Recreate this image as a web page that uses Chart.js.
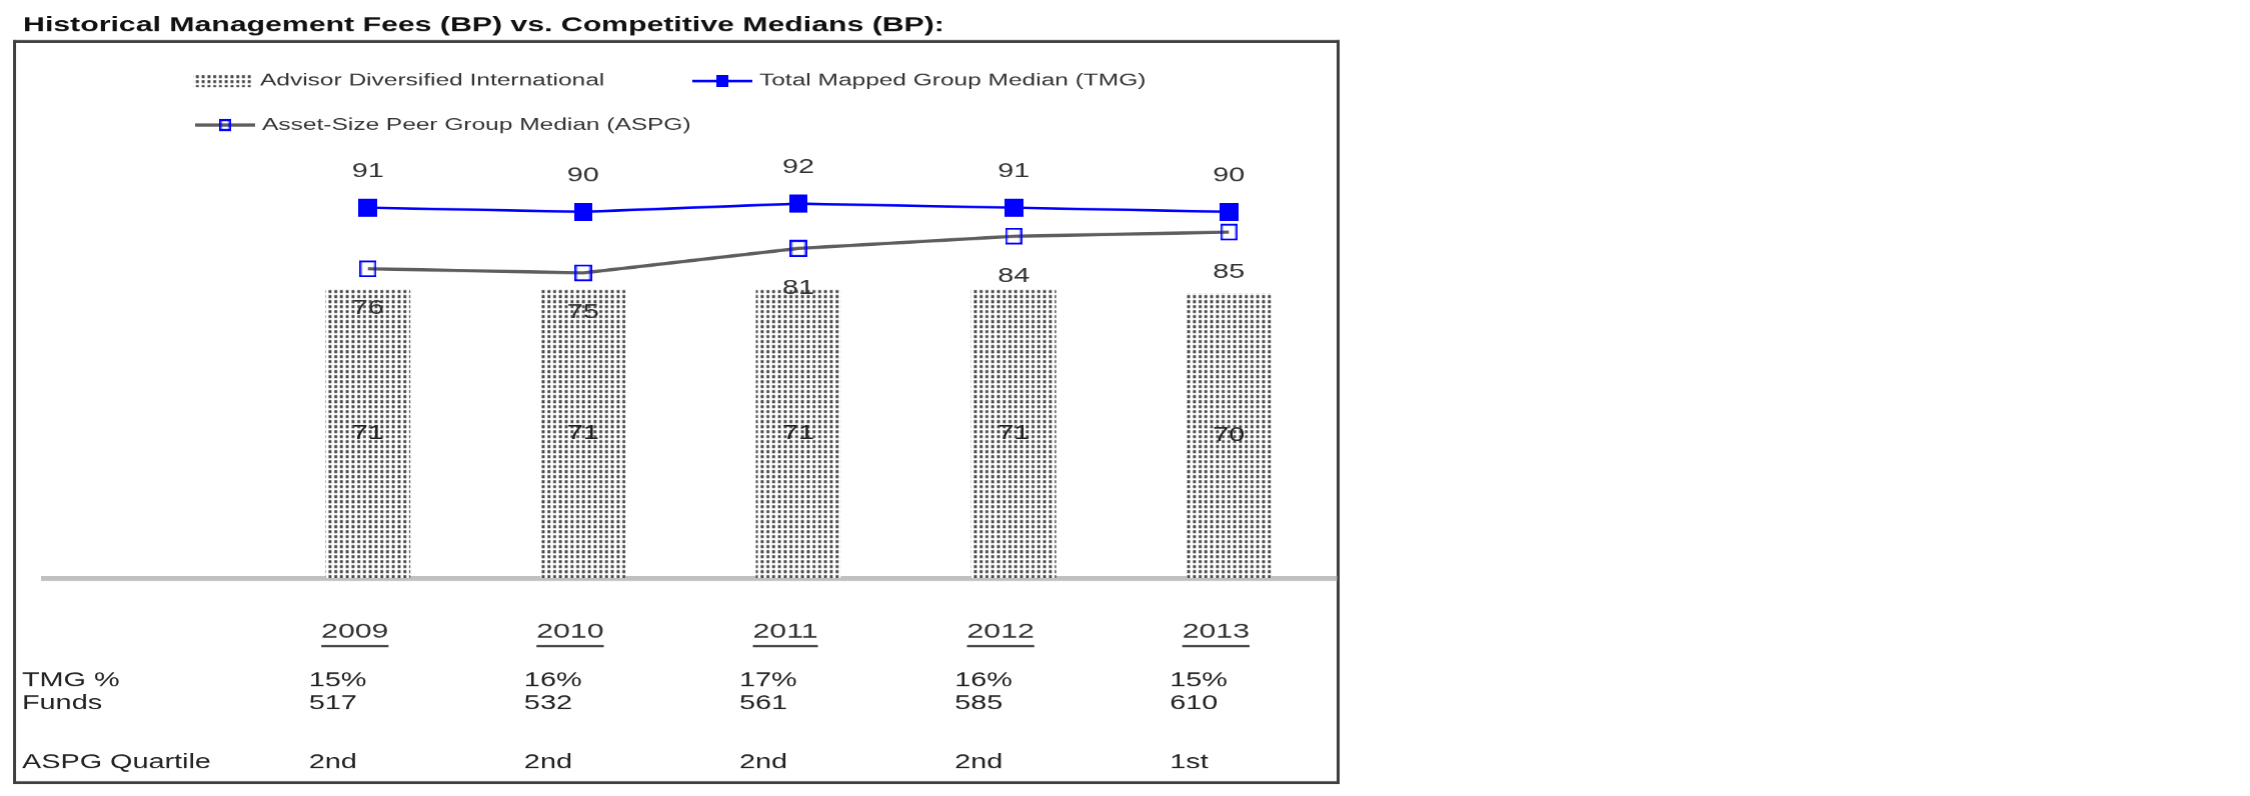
<!DOCTYPE html>
<html>
<head>
<meta charset="utf-8">
<title>Historical Management Fees vs. Competitive Medians</title>
<script src="https://cdn.jsdelivr.net/npm/chart.js@4.4.1/dist/chart.umd.min.js"></script>
<style>
  html, body { margin: 0; padding: 0; background: #fff; width: 2250px; height: 796px; overflow: hidden; }
  #wrap { position: absolute; left: 0; top: 0; width: 940px; height: 796px; transform: scaleX(1.44); transform-origin: 0 0; }
</style>
</head>
<body>
<div id="wrap"><canvas id="chart"></canvas></div>
<script>
/***********************
 * DATA
 ***********************/
const years = ["2009", "2010", "2011", "2012", "2013"];
const advisorFees = [71, 71, 71, 71, 70];
const tmgMedian = [91, 90, 92, 91, 90];
const aspgMedian = [76, 75, 81, 84, 85];

const tableRowNames = ["TMG %", "Funds", "ASPG Quartile"];
const tmgPercent = ["15%", "16%", "17%", "16%", "15%"];
const fundCounts = ["517", "532", "561", "585", "610"];
const aspgQuartile = ["2nd", "2nd", "2nd", "2nd", "1st"];

/***********************
 * CONFIG
 ***********************/
// the picture is stretched sideways: lay out narrow, CSS widens it again
const SX = 1.44;
const px = (v) => v / SX; // horizontal reference pixels -> canvas units
const FONT = "'Liberation Sans', Arial, sans-serif";
const LABEL_OFFSET = px(-13);
const FRAME = { left: 13, right: 1339, top: 40, bottom: 784 };

Chart.defaults.font.family = FONT;

/***********************
 * Helpers
 ***********************/
function makeCanvas(w, h, draw) {
  const c = document.createElement("canvas");
  c.width = w;
  c.height = h;
  draw(c.getContext("2d"), w, h);
  return c;
}

function dotPattern() {
  const tile = makeCanvas(4, 5, (g) => {
    g.fillStyle = "#ffffff";
    g.fillRect(0, 0, 4, 5);
    g.fillStyle = "#474747";
    g.fillRect(0, 0, 2, 3);
  });
  return tile.getContext("2d").createPattern(tile, "repeat");
}

function filledSquare(w, h) {
  return makeCanvas(w, h, (g) => {
    g.fillStyle = "#0000ff";
    g.fillRect(0, 0, w, h);
  });
}

function openSquare(w, h) {
  return makeCanvas(w, h, (g) => {
    g.fillStyle = "#0000ff";
    g.fillRect(0, 0, w, 2);
    g.fillRect(0, h - 2, w, 2);
    g.fillRect(0, 0, 1.5, h);
    g.fillRect(w - 1.5, 0, 1.5, h);
  });
}

const barFill = dotPattern();
const tmgMarker = filledSquare(13, 18);
const aspgMarker = openSquare(12, 17);
const tmgLegendMarker = filledSquare(8, 12);
const aspgLegendMarker = openSquare(8, 12);

/***********************
 * Plugins
 ***********************/
const framePlugin = {
  id: "frame",
  beforeDraw(chart) {
    const c = chart.ctx;
    const f = FRAME;
    c.save();
    c.fillStyle = "#3f3f3f";
    c.fillRect(px(f.left), f.top, px(f.right - f.left), 3);
    c.fillRect(px(f.left), f.bottom - 3, px(f.right - f.left), 3);
    c.fillRect(px(f.left), f.top, px(3), f.bottom - f.top);
    c.fillRect(px(f.right - 3), f.top, px(3), f.bottom - f.top);
    c.restore();
  },
};

// legend laid out like the original: two items, then one on a second row
const legendSpots = [
  { ds: 2, x: 193, y: 81 },
  { ds: 0, x: 692, y: 81 },
  { ds: 1, x: 195, y: 125 },
];

const legendPlugin = {
  id: "rowLegend",
  afterDraw(chart) {
    const c = chart.ctx;
    const symW = px(60);
    c.save();
    legendSpots.forEach((s) => {
      const ds = chart.data.datasets[s.ds];
      const x = px(s.x);
      if (ds.type === "bar") {
        c.fillStyle = ds.backgroundColor;
        c.fillRect(x, s.y - 6, symW, 12);
      } else {
        c.strokeStyle = ds.borderColor;
        c.lineWidth = ds.borderWidth;
        c.beginPath();
        c.moveTo(x, s.y);
        c.lineTo(x + symW, s.y);
        c.stroke();
        const m = ds.legendMarker;
        c.drawImage(m, x + symW / 2 - m.width / 2, s.y - m.height / 2);
      }
      c.fillStyle = "#333";
      c.font = "17px " + FONT;
      c.textAlign = "left";
      c.textBaseline = "middle";
      c.fillText(ds.label, x + symW + px(7), s.y);
    });
    c.restore();
  },
};

const valueLabels = {
  id: "valueLabels",
  afterDatasetsDraw(chart) {
    const c = chart.ctx;
    c.save();
    c.font = "20px " + FONT;
    c.textAlign = "center";
    c.textBaseline = "middle";
    chart.data.datasets.forEach((ds, i) => {
      const meta = chart.getDatasetMeta(i);
      meta.data.forEach((el, j) => {
        const v = ds.data[j];
        if (v == null) return;
        let y;
        if (ds.type === "bar") y = (el.y + el.base) / 2;
        else y = el.y + ds.labelShift;
        c.fillStyle = ds.type === "bar" ? "#222" : "#333";
        c.fillText(String(v), el.x, y);
      });
    });
    c.restore();
  },
};

const tablePlugin = {
  id: "table",
  afterDraw(chart) {
    const c = chart.ctx;
    const xs = chart.scales.x;
    c.save();

    // underline the year labels
    c.font = "21px " + FONT;
    c.fillStyle = "#333";
    years.forEach((yr, i) => {
      const cx = xs.getPixelForTick(i + 1) + LABEL_OFFSET;
      const w = c.measureText(yr).width;
      c.fillRect(cx - w / 2, 645, w, 2);
    });

    const rows = [tmgPercent, fundCounts, aspgQuartile];
    const baselines = [686, 709, 768];
    c.font = "20px " + FONT;
    c.fillStyle = "#222";
    c.textAlign = "left";
    c.textBaseline = "alphabetic";
    rows.forEach((vals, r) => {
      c.fillText(tableRowNames[r], px(22), baselines[r]);
      vals.forEach((v, j) => {
        const x = xs.getPixelForValue(j + 1) + LABEL_OFFSET - px(46);
        c.fillText(v, x, baselines[r]);
      });
    });
    c.restore();
  },
};

/***********************
 * Chart
 ***********************/
const labels = [""].concat(years);

new Chart(document.getElementById("chart"), {
  data: {
    labels,
    datasets: [
      {
        type: "line",
        label: "Total Mapped Group Median (TMG)",
        data: [null].concat(tmgMedian),
        borderColor: "#0000ff",
        borderWidth: 2.5,
        pointStyle: tmgMarker,
        pointRadius: 9,
        tension: 0,
        order: 1,
        labelShift: -36,
        legendMarker: tmgLegendMarker,
      },
      {
        type: "line",
        label: "Asset-Size Peer Group Median (ASPG)",
        data: [null].concat(aspgMedian),
        borderColor: "#5e5e5e",
        borderWidth: 3.3,
        pointStyle: aspgMarker,
        pointRadius: 9,
        tension: 0,
        order: 2,
        labelShift: 40,
        legendMarker: aspgLegendMarker,
      },
      {
        type: "bar",
        label: "Advisor Diversified International",
        data: [null].concat(advisorFees),
        backgroundColor: barFill,
        borderWidth: 0,
        categoryPercentage: 1,
        barPercentage: 0.395,
        order: 3,
      },
    ],
  },
  options: {
    responsive: true,
    maintainAspectRatio: false,
    animation: false,
    devicePixelRatio: SX,
    layout: { padding: { left: 16, right: 940 - px(1336), top: 0, bottom: 0 } },
    plugins: {
      legend: { display: false },
      tooltip: { enabled: false },
      title: {
        display: true,
        text: "Historical Management Fees (BP) vs. Competitive Medians (BP):",
        align: "start",
        color: "#111",
        font: { size: 21, weight: "bold" },
        padding: { top: 13, bottom: 171 - 13 - 25.2 },
      },
    },
    scales: {
      x: {
        grid: { display: false, drawTicks: false },
        border: { display: true, color: "#c0c0c0", width: 5 },
        ticks: {
          padding: 41.4,
          labelOffset: LABEL_OFFSET,
          color: "#333",
          font: { size: 21 },
          maxRotation: 0,
          autoSkip: false,
        },
        afterFit: (s) => { s.height = 218; },
      },
      y: {
        min: 0,
        max: 100,
        grid: { display: false },
        border: { display: false },
        ticks: { display: false },
        afterFit: (s) => { s.width = px(45) - 16; },
      },
    },
  },
  plugins: [framePlugin, legendPlugin, valueLabels, tablePlugin],
});
</script>
</body>
</html>
